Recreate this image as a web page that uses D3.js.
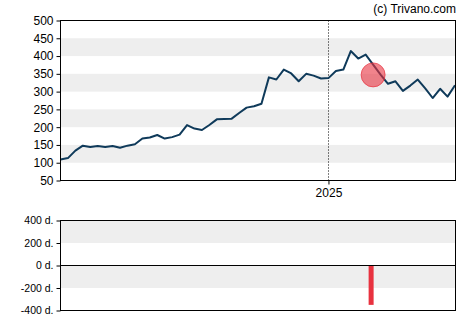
<!DOCTYPE html>
<html>
<head>
<meta charset="utf-8">
<script src="https://cdn.jsdelivr.net/npm/d3@7/dist/d3.min.js"></script>
<style>
  html, body { margin: 0; padding: 0; background: #fff; }
  svg { display: block; font-family: "Liberation Sans", Arial, sans-serif; }
</style>
</head>
<body>
<svg id="chart" width="470" height="325"></svg>
<script>
// Weekly closing prices
const startDate = "2024-04-24";
const prices = [
  109, 113, 134, 148, 144, 147, 144, 147, 142, 148,
  152, 168, 171, 178, 168, 172, 179, 206, 196, 192,
  206, 222, 223, 224, 240, 255, 259, 266, 340, 334,
  362, 351, 329, 350, 345, 337, 338, 358, 362, 414,
  393, 404, 376, 348, 322, 329, 302, 317, 334, 309,
  282, 308, 286, 318
];
// Marked event: price level and day count in the lower panel
const eventIndex = [42];
const eventPrice = [347];
const eventDays = [-350];

const priceTicks = [50, 100, 150, 200, 250, 300, 350, 400, 450, 500];
const priceBands = [[100, 150], [200, 250], [300, 350], [400, 450]];
const dayTicks = [-400, -200, 0, 200, 400];
const dayBands = [[200, 400], [-200, 0]];
const yearTicks = ["2025-01-01"];

const parse = d3.utcParse("%Y-%m-%d");
const t0 = parse(startDate);
const dates = prices.map((_, i) => d3.utcDay.offset(t0, i * 7));
const series = prices.map((v, i) => ({ date: dates[i], value: v }));

const svg = d3.select("#chart");
const L = 60.5, R = 455.5;
const FONT = "Liberation Sans, Arial, sans-serif";

const x = d3.scaleUtc().domain([dates[0], dates[dates.length - 1]]).range([L, R - 0.5]);
const y = d3.scaleLinear().domain([50, 500]).range([180.5, 20.5]);
const yd = d3.scaleLinear().domain([-400, 400]).range([310.5, 220.5]);

// ---- price panel ----
const pricePanel = svg.append("g");
pricePanel.selectAll("rect.band").data(priceBands).join("rect")
  .attr("class", "band")
  .attr("x", L).attr("width", R - L)
  .attr("y", d => y(d[1])).attr("height", d => y(d[0]) - y(d[1]))
  .attr("fill", "#eeeeee");

const xYear = Math.round(x(parse(yearTicks[0]))) + 0.5;
pricePanel.append("line")
  .attr("x1", xYear).attr("x2", xYear)
  .attr("y1", y(500)).attr("y2", y(50))
  .attr("stroke", "#000").attr("stroke-width", 1).attr("stroke-dasharray", "1,2");

const line = d3.line().x(d => x(d.date)).y(d => y(d.value));
pricePanel.append("path").datum(series)
  .attr("d", line).attr("fill", "none")
  .attr("stroke", "#0f3a5a").attr("stroke-width", 2).attr("stroke-linejoin", "round");

pricePanel.selectAll("circle.event").data(eventIndex).join("circle")
  .attr("class", "event")
  .attr("cx", d => x(dates[d])).attr("cy", (d, i) => y(eventPrice[i]))
  .attr("r", 12)
  .attr("fill", "#e8323f").attr("fill-opacity", 0.6)
  .attr("stroke", "#e8323f").attr("stroke-opacity", 0.7).attr("stroke-width", 1);

pricePanel.append("rect")
  .attr("x", L).attr("y", y(500)).attr("width", R - L).attr("height", y(50) - y(500))
  .attr("fill", "none").attr("stroke", "#000").attr("stroke-width", 1);

const yAxis = d3.axisLeft(y).tickValues(priceTicks).tickSize(4).tickPadding(3);
pricePanel.append("g").attr("transform", `translate(${L},0)`).call(yAxis)
  .call(g => g.select(".domain").remove())
  .call(g => g.selectAll("text").attr("font-size", 12).attr("fill", "#000").attr("font-family", FONT));

const xAxis = d3.axisBottom(x).tickValues(yearTicks.map(parse)).tickFormat(d3.utcFormat("%Y")).tickSize(4).tickPadding(4);
pricePanel.append("g").attr("transform", `translate(0,${y(50)})`).call(xAxis)
  .call(g => g.select(".domain").remove())
  .call(g => g.selectAll("text").attr("font-size", 12).attr("fill", "#000").attr("font-family", FONT));

svg.append("text")
  .attr("x", 456).attr("y", 13)
  .attr("text-anchor", "end").attr("font-size", 12).attr("fill", "#000")
  .attr("font-family", FONT)
  .text("(c) Trivano.com");

// ---- days panel ----
const dayPanel = svg.append("g");
dayPanel.selectAll("rect.band").data(dayBands).join("rect")
  .attr("class", "band")
  .attr("x", L).attr("width", R - L)
  .attr("y", d => yd(d[1])).attr("height", d => yd(d[0]) - yd(d[1]))
  .attr("fill", "#eeeeee");

dayPanel.selectAll("rect.bar").data(eventIndex).join("rect")
  .attr("class", "bar")
  .attr("x", d => x(dates[d]) - 4.5).attr("width", 5)
  .attr("y", (d, i) => yd(Math.max(0, eventDays[i])))
  .attr("height", (d, i) => Math.abs(yd(eventDays[i]) - yd(0)))
  .attr("fill", "#e8323f");

dayPanel.append("line")
  .attr("x1", L).attr("x2", R).attr("y1", yd(0)).attr("y2", yd(0))
  .attr("stroke", "#000").attr("stroke-width", 1);

dayPanel.append("rect")
  .attr("x", L).attr("y", yd(400)).attr("width", R - L).attr("height", yd(-400) - yd(400))
  .attr("fill", "none").attr("stroke", "#000").attr("stroke-width", 1);

const ydAxis = d3.axisLeft(yd).tickValues(dayTicks).tickSize(4).tickPadding(3).tickFormat(d => d + " d.");
dayPanel.append("g").attr("transform", `translate(${L},0)`).call(ydAxis)
  .call(g => g.select(".domain").remove())
  .call(g => g.selectAll("text").attr("font-size", 10.5).attr("fill", "#000").attr("font-family", FONT));
</script>
</body>
</html>
